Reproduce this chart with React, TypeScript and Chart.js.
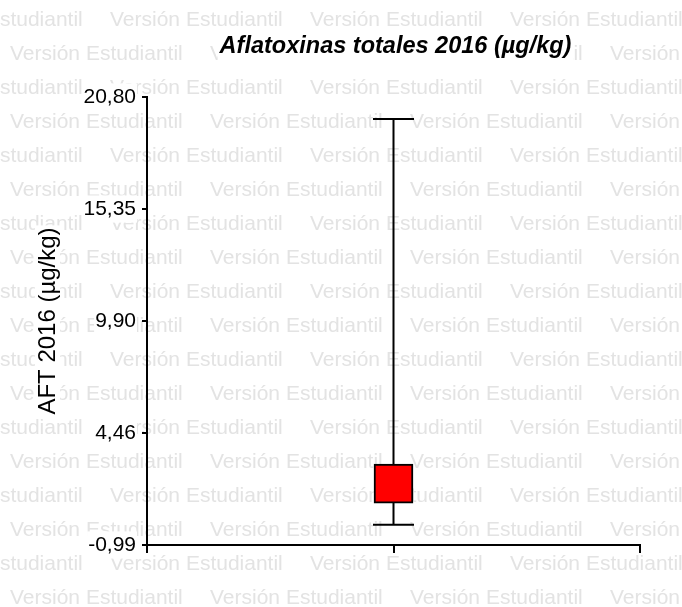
import React, { useEffect, useRef } from "react";
import { Chart, registerables } from "chart.js";

Chart.register(...registerables);

const xLabels = ["", "", ""];
const yTickValues = [-0.99, 4.46, 9.9, 15.35, 20.8];
const boxQ1 = [null, 1.05, null];
const boxQ3 = [null, 2.94, null];
const whiskerLow = [null, 0.0, null];
const whiskerHigh = [null, 19.73, null];
const titleText = "Aflatoxinas totales 2016 (µg/kg)";
const yTitleText = "AFT 2016 (µg/kg)";
const watermarkText = "Versión Estudiantil";

const FONT = '"Liberation Sans", Arial, sans-serif';

const watermarkPlugin = {
  id: "watermark",
  beforeDraw(chart: any) {
    const ctx = chart.ctx;
    ctx.save();
    ctx.fillStyle = "#ffffff";
    ctx.fillRect(0, 0, chart.width, chart.height);
    ctx.fillStyle = "#e3e3e3";
    ctx.font = `21px ${FONT}`;
    ctx.textBaseline = "alphabetic";
    ctx.textAlign = "left";
    for (let i = 0; i < 18; i++) {
      const y = 18 + 34 * i + 8;
      const start = i % 2 === 0 ? -90 : 10;
      for (let x = start; x < chart.width; x += 200) {
        ctx.fillText(watermarkText, x, y);
      }
    }
    ctx.restore();
  },
};

const whiskerPlugin = {
  id: "whiskers",
  beforeDatasetsDraw(chart: any) {
    const ctx = chart.ctx;
    const xs = chart.scales.x;
    const ys = chart.scales.y;
    ctx.save();
    ctx.strokeStyle = "#000";
    ctx.lineWidth = 2;
    const capHalf = 20.5;
    for (let i = 0; i < xLabels.length; i++) {
      if (whiskerLow[i] == null) continue;
      const cx = xs.getPixelForValue(i);
      const yLo = ys.getPixelForValue(whiskerLow[i]);
      const yHi = ys.getPixelForValue(whiskerHigh[i]);
      const yQ1 = ys.getPixelForValue(boxQ1[i]);
      const yQ3 = ys.getPixelForValue(boxQ3[i]);
      ctx.beginPath();
      ctx.moveTo(cx, yQ3);
      ctx.lineTo(cx, yHi);
      ctx.moveTo(cx - capHalf, yHi);
      ctx.lineTo(cx + capHalf, yHi);
      ctx.moveTo(cx, yQ1);
      ctx.lineTo(cx, yLo);
      ctx.moveTo(cx - capHalf, yLo);
      ctx.lineTo(cx + capHalf, yLo);
      ctx.stroke();
    }
    ctx.restore();
  },
};

const titlesPlugin = {
  id: "titles",
  afterDraw(chart: any) {
    const ctx = chart.ctx;
    const ca = chart.chartArea;
    ctx.save();
    ctx.font = `italic bold 23.5px ${FONT}`;
    const tw = ctx.measureText(titleText).width;
    const cx = (ca.left + ca.right) / 2 + 2;
    ctx.fillStyle = "#fff";
    ctx.fillRect(cx - tw / 2 - 2, 33, tw + 4, 27);
    ctx.fillStyle = "#000";
    ctx.textAlign = "center";
    ctx.textBaseline = "alphabetic";
    ctx.fillText(titleText, cx, 53);
    ctx.font = `24px ${FONT}`;
    const yw = ctx.measureText(yTitleText).width;
    const cy = (ca.top + ca.bottom) / 2;
    ctx.translate(47, cy);
    ctx.rotate(-Math.PI / 2);
    ctx.fillStyle = "#fff";
    ctx.fillRect(-yw / 2 - 2, -12, yw + 4, 25);
    ctx.fillStyle = "#000";
    ctx.textBaseline = "middle";
    ctx.fillText(yTitleText, 0, 1);
    ctx.restore();
  },
};

export default function App() {
  const ref = useRef<HTMLCanvasElement>(null);
  useEffect(() => {
    document.body.style.margin = "0";
    const chart = new Chart(ref.current!, {
      type: "bar",
      data: {
        labels: xLabels,
        datasets: [
          {
            data: boxQ1.map((q, i) => (q == null ? null : [q, boxQ3[i]])) as any,
            backgroundColor: "#ff0000",
            borderColor: "#000000",
            borderWidth: 2,
            borderSkipped: false,
            barThickness: 39,
          },
        ],
      },
      options: {
        animation: false,
        responsive: true,
        maintainAspectRatio: false,
        layout: { padding: { top: 97, right: 42, left: 0, bottom: 0 } },
        plugins: {
          legend: { display: false },
          tooltip: { enabled: false },
          title: { display: false },
        },
        scales: {
          x: {
            type: "category",
            offset: false,
            grid: {
              display: true,
              offset: false,
              drawOnChartArea: false,
              drawTicks: true,
              tickLength: 8,
              color: "#000",
              lineWidth: 2,
            },
            border: { display: true, color: "#000", width: 2 },
            ticks: { display: true, callback: () => "" },
            afterFit(scale: any) {
              scale.height = 62;
            },
          },
          y: {
            type: "linear",
            min: -0.99,
            max: 20.8,
            grid: {
              display: true,
              drawOnChartArea: false,
              drawTicks: true,
              tickLength: 5,
              color: "#000",
              lineWidth: 2,
            },
            border: { display: true, color: "#000", width: 2 },
            afterBuildTicks(scale: any) {
              scale.ticks = yTickValues.map((v) => ({ value: v }));
            },
            ticks: {
              color: "#000",
              font: { family: FONT, size: 21 },
              padding: 6,
              showLabelBackdrop: true,
              backdropColor: "#ffffff",
              backdropPadding: 1,
              callback: (v: any) => Number(v).toFixed(2).replace(".", ","),
            },
            afterFit(scale: any) {
              scale.width = 147;
            },
          },
        },
      },
      plugins: [watermarkPlugin, whiskerPlugin, titlesPlugin],
    });
    return () => chart.destroy();
  }, []);
  return (
    <div style={{ position: "fixed", left: 0, top: 0, width: 682, height: 607 }}>
      <canvas ref={ref} />
    </div>
  );
}
